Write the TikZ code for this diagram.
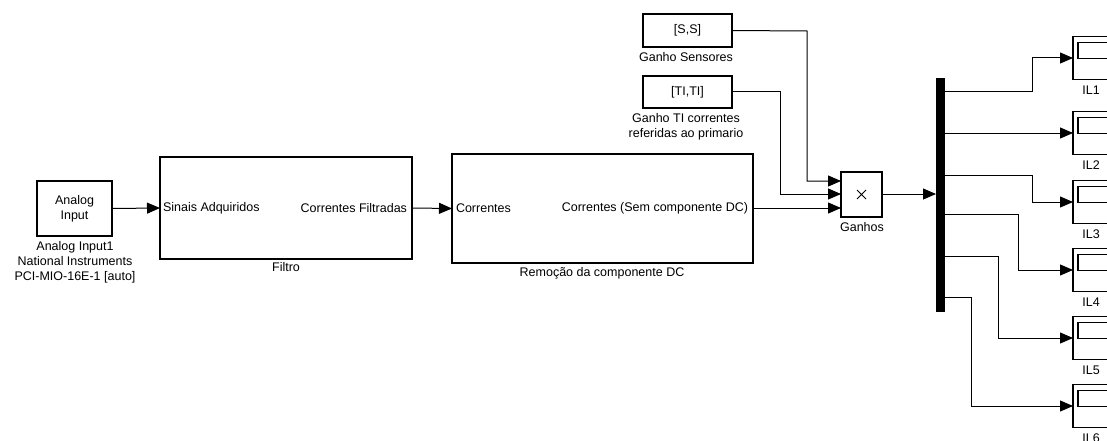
\documentclass[tikz,border=0pt]{standalone}
\usepackage{fontspec}
\setmainfont{Liberation Sans}
\usetikzlibrary{arrows.meta,calc}
\begin{document}
\begin{tikzpicture}[x=1pt,y=-1pt,
  every node/.style={font=\fontsize{12.5}{15}\selectfont, inner sep=0pt, outer sep=0pt},
  blk/.style={draw, line width=1.2pt, fill=white, anchor=north west},
  sig/.style={line width=1pt, -{Triangle[length=13pt,width=11pt]}},
  lbl/.style={align=center, anchor=north},
  scopebox/.style={draw, line width=1.2pt, anchor=west, minimum width=42pt, minimum height=43pt},
  demuxbar/.style={fill=black, draw=black, anchor=north west, minimum width=8pt, minimum height=233pt}
]
\useasboundingbox (0,0) rectangle (1107,441);
\clip (0,0) rectangle (1107,441);
\fill[white] (0,0) rectangle (1107,441);

% Analog input block
\node[blk, minimum width=75pt, minimum height=55pt, align=center] (ai) at (37,181) {Analog\\Input};
\node[lbl] (ailbl) at (75,241) {Analog Input1\\National Instruments\\PCI-MIO-16E-1 [auto]};

% Filter subsystem
\node[blk, minimum width=252pt, minimum height=102pt] (filt) at (160,157) {};
\node[anchor=west] (filtin) at ($(filt.west)+(3,0)$) {Sinais Adquiridos};
\node[anchor=east] (filtout) at ($(filt.east)+(-5,0)$) {Correntes Filtradas};
\node[lbl] (filtlbl) at (286,262) {Filtro};

% DC removal subsystem
\node[blk, minimum width=301pt, minimum height=109pt] (dc) at (452,154) {};
\node[anchor=west] (dcin) at ($(dc.west)+(4,0)$) {Correntes};
\node[anchor=east] (dcout) at ($(dc.east)+(-5,0)$) {Correntes (Sem componente DC)};
\node[lbl] (dclbl) at (602,267) {Remoção da componente DC};

% Constant gains
\node[blk, minimum width=89pt, minimum height=33pt] (ss) at (643,14) {[S,S]};
\node[lbl] (sslbl) at (686,52) {Ganho Sensores};
\node[blk, minimum width=89pt, minimum height=32pt] (ti) at (643,76) {[TI,TI]};
\node[lbl] (tilbl) at (686,113) {Ganho TI correntes\\referidas ao primario};

% Product block with its cross symbol
\node[blk, minimum width=41pt, minimum height=45pt] (gan) at (841,172) {};
\draw[line width=0.9pt] ($(gan.center)+(-4.5,-4.5)$) -- ($(gan.center)+(4.5,4.5)$)
                        ($(gan.center)+(-4.5,4.5)$) -- ($(gan.center)+(4.5,-4.5)$);
\node[lbl] (ganlbl) at (862,222) {Ganhos};
\coordinate (g1) at (841,181);
\coordinate (g2) at (841,194);
\coordinate (g3) at (841,208);
\coordinate (ssb) at (807,31);
\coordinate (tib) at (780,92);

% Demux
\node[demuxbar] (dmx) at (936,78) {};

% Scopes
\foreach \i/\py in {1/58,2/133,3/202,4/270,5/338,6/406}{
  \node[scopebox] (sc\i) at (1073,\py) {};
  \draw[line width=1.2pt] ($(sc\i.north west)+(5,6)$) rectangle ($(sc\i.north west)+(38,22)$);
  \node[lbl] (sclbl\i) at ($(sc\i.south west)+(18,6)$) {IL\i};
}

% Demux output taps and bends
\foreach \i/\dy in {1/92,2/133,3/175,4/214,5/256,6/297}{
  \coordinate (d\i) at (944,\dy);
}
\coordinate (b1) at (1032,92);
\coordinate (b3) at (1032,175);
\coordinate (b4) at (1018,214);
\coordinate (b5) at (998,256);
\coordinate (b6) at (971,297);

% Signal lines
\draw[sig] (ai.east) -- (filt.west);
\draw[sig] (filt.east) -- (dc.west);
\draw[sig] (dc.east |- g3) -- (g3);
\draw[sig] (ss.east) -- (ssb) |- (g1);
\draw[sig] (ti.east) -- (tib) |- (g2);
\draw[sig] (gan.east |- g2) -- (dmx.west |- g2);

\draw[sig] (d1) -- (b1) |- (sc1.west);
\draw[sig] (d2) -- (sc2.west);
\draw[sig] (d3) -- (b3) |- (sc3.west);
\draw[sig] (d4) -- (b4) |- (sc4.west);
\draw[sig] (d5) -- (b5) |- (sc5.west);
\draw[sig] (d6) -- (b6) |- (sc6.west);
\end{tikzpicture}
\end{document}
